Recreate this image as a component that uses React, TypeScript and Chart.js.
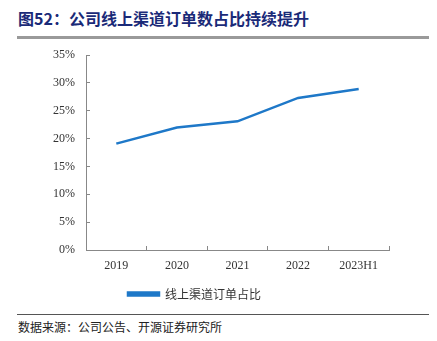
import React, { useEffect, useRef } from "react";
import { Chart, registerables } from "chart.js";

Chart.register(...registerables);

const categories = ["2019", "2020", "2021", "2022", "2023H1"];
const onlineShare = [19.1, 22.0, 23.1, 27.3, 28.9];
const seriesName = "线上渠道订单占比";
const yTicks = [0, 5, 10, 15, 20, 25, 30, 35];
const titleText = "图52：公司线上渠道订单数占比持续提升";
const sourceText = "数据来源：公司公告、开源证券研究所";

export default function App() {
  const ref = useRef<HTMLCanvasElement>(null);
  useEffect(() => {
    if (!ref.current) return;
    const tickFont = { family: "'Liberation Serif', 'Times New Roman', serif", size: 12 };
    const chart = new Chart(ref.current, {
      type: "line",
      data: {
        labels: categories,
        datasets: [
          {
            label: seriesName,
            data: onlineShare,
            borderColor: "#1e78c8",
            backgroundColor: "#1e78c8",
            borderWidth: 2.5,
            pointRadius: 0,
            tension: 0,
          },
        ],
      },
      options: {
        responsive: false,
        animation: false,
        layout: { padding: { left: 0, top: 55, right: 48, bottom: 0 } },
        plugins: {
          tooltip: { enabled: false },
          legend: {
            position: "bottom",
            labels: {
              boxWidth: 31,
              boxHeight: 3,
              padding: 10,
              color: "#333",
              font: { family: "'Noto Sans CJK SC', sans-serif", size: 12 },
            },
          },
        },
        scales: {
          x: {
            offset: true,
            grid: { drawOnChartArea: false, tickLength: -4, color: "#888", offset: true },
            border: { color: "#888", width: 1 },
            ticks: { color: "#333", font: tickFont, padding: 13, maxRotation: 0 },
            afterFit: (s: any) => {
              s.height = 28;
            },
          },
          y: {
            min: 0,
            max: 35,
            afterBuildTicks: (s: any) => {
              s.ticks = yTicks.map((v) => ({ value: v }));
            },
            grid: { drawOnChartArea: false, tickLength: -4, color: "#888" },
            border: { color: "#888", width: 1 },
            ticks: {
              color: "#333",
              font: tickFont,
              padding: 15,
              callback: (v: any) => v + "%",
            },
            afterFit: (s: any) => {
              s.width = 86;
            },
          },
        },
      },
    });
    return () => chart.destroy();
  }, []);

  return (
    <div style={{ position: "absolute", left: 0, top: 0, width: 437, height: 341, background: "#fff" }}>
      <div
        style={{
          position: "absolute",
          left: 18,
          top: 8,
          fontFamily: "'Noto Sans CJK SC', sans-serif",
          fontWeight: "bold",
          fontSize: 16,
          color: "#1a2a78",
          whiteSpace: "nowrap",
          lineHeight: "20px",
        }}
      >
        {titleText}
      </div>
      <div style={{ position: "absolute", left: 17, top: 36, width: 412, height: 3, background: "#9a9a9a" }} />
      <canvas ref={ref} width={437} height={310} style={{ position: "absolute", left: 0, top: 0 }} />
      <div style={{ position: "absolute", left: 17, top: 314, width: 412, height: 1, background: "#555" }} />
      <div
        style={{
          position: "absolute",
          left: 18,
          top: 319,
          fontFamily: "'Noto Sans CJK SC', sans-serif",
          fontSize: 12,
          color: "#222",
          whiteSpace: "nowrap",
          lineHeight: "16px",
        }}
      >
        {sourceText}
      </div>
    </div>
  );
}
